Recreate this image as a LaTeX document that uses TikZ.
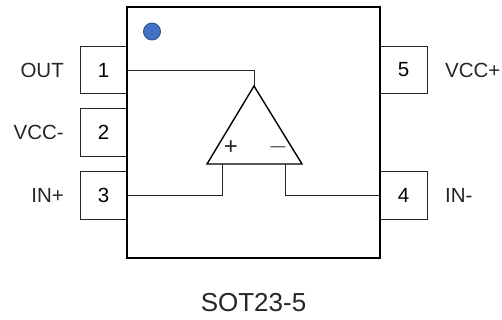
\documentclass[tikz,border=0pt]{standalone}
\usepackage{fontspec}
\setmainfont{Liberation Sans}
\definecolor{dotfill}{HTML}{4472C4}
\definecolor{dotedge}{HTML}{2F528F}
\tikzset{
  x=1pt,y=-1pt,
  pinbox/.style={draw=black!85,line width=0.9pt,minimum width=47pt,minimum height=47.5pt,inner sep=0pt,outer sep=0pt,font=\fontsize{20.5}{24}\selectfont},
  lbl/.style={inner sep=0pt,text=black!85,font=\fontsize{20.5}{24}\selectfont},
  wire/.style={draw=black!85,line width=0.9pt},
  chipbox/.style={draw=black,line width=2.3pt,minimum width=253pt,minimum height=251pt,inner sep=0pt,outer sep=0pt},
  amp/.style={draw=black,line width=1.4pt,line join=miter}
}
\begin{document}
\begin{tikzpicture}
\useasboundingbox (0,0) rectangle (502,320);
\node[pinbox] (p1) at (103.5,70) {1};
\node[pinbox] (p2) at (103.5,132.3) {2};
\node[pinbox] (p3) at (103.5,195.3) {3};
\node[pinbox] (p5) at (403.5,70) {5};
\node[pinbox] (p4) at (403.5,195.3) {4};
\node[chipbox] (chip) at (253.5,132.5) {};
\node[circle,draw=dotedge,fill=dotfill,line width=0.9pt,minimum size=17pt,inner sep=0pt] (dot) at (152,31.5) {};
\coordinate (apex) at (254,86);
\coordinate (bl) at (207,164);
\coordinate (br) at (302,164);
\coordinate (inp) at (222.5,164);
\coordinate (inm) at (285,164);
\draw[amp] (apex) -- (bl) -- (br) -- cycle;
\draw[wire] (p1.east) -| (apex);
\draw[wire] (p3.east) -| (inp);
\draw[wire] (p4.west) -| (inm);
\node[lbl,font=\fontsize{24}{28}\selectfont] (plus) at (231,148) {+};
\node[lbl,font=\fontsize{24}{28}\selectfont] (minus) at (278,147) {$-$};
\node[lbl,anchor=east] (l1) at (64,70) {OUT};
\node[lbl,anchor=east] (l2) at (64,132) {VCC-};
\node[lbl,anchor=east] (l3) at (64,195) {IN+};
\node[lbl,anchor=west] (l5) at (445,70) {VCC+};
\node[lbl,anchor=west] (l4) at (445,195) {IN-};
\node[lbl,font=\fontsize{26}{30}\selectfont] (t) at (253.5,303) {SOT23-5};
\end{tikzpicture}
\end{document}
